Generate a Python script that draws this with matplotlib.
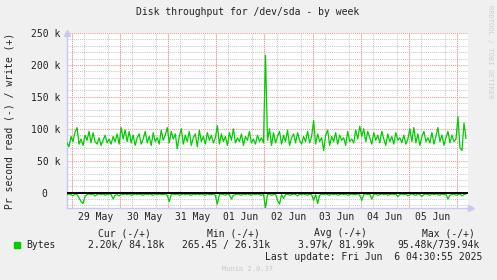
import numpy as np
import matplotlib.pyplot as plt
from matplotlib.patches import Rectangle
from matplotlib.ticker import MultipleLocator, FixedLocator

# hourly samples, hours relative to 29 May 00:00
write_k = [78, 72, 88, 80, 95, 102, 76, 84, 74, 90, 82, 96,
           78, 94, 80, 76, 86, 74, 82, 90, 78, 84, 76, 88,
           80, 92, 76, 102, 84, 98, 80, 96, 78, 90, 74, 86,
           92, 76, 84, 96, 78, 88, 74, 94, 80, 86, 76, 98,
           82, 90, 102, 78, 96, 84, 92, 69, 88, 100, 76, 90,
           80, 96, 74, 86, 92, 72, 98, 80, 88, 76, 94, 82,
           90, 78, 86, 105, 76, 92, 80, 88, 74, 94, 82, 100,
           78, 86, 80, 92, 74, 88, 82, 96, 78, 84, 76, 90,
           80, 86, 78, 215, 82, 100, 74, 94, 78, 88, 96, 76,
           90, 80, 98, 74, 86, 92, 78, 94, 82, 76, 88, 80,
           96, 78, 88, 113, 76, 92, 80, 86, 66, 90, 98, 74,
           88, 80, 94, 76, 90, 82, 86, 74, 96, 80, 84, 78,
           98, 84, 104, 88, 100, 80, 96, 86, 76, 94, 82, 90,
           78, 96, 84, 74, 92, 80, 88, 76, 94, 82, 86, 78,
           90, 76, 84, 100, 80, 102, 78, 92, 74, 88, 96, 80,
           86, 78, 94, 76, 88, 102, 80, 90, 74, 86, 96, 78,
           90, 80, 84, 119, 70, 66, 109, 85]

read_k = [3, 2, 3, 5, 2, 3, 8, 14, 17, 6, 3, 2,
          3, 2, 5, 3, 2, 3, 2, 4, 3, 2, 3, 10,
          4, 3, 5, 2, 3, 2, 3, 2, 4, 3, 2, 3,
          2, 3, 4, 2, 3, 2, 3, 4, 2, 3, 2, 3,
          3, 2, 4, 14, 3, 2, 3, 2, 4, 3, 2, 3,
          2, 3, 4, 2, 3, 2, 3, 2, 3, 4, 2, 3,
          3, 2, 4, 18, 3, 2, 3, 4, 2, 3, 10, 4,
          3, 2, 3, 4, 2, 3, 2, 3, 4, 2, 3, 2,
          3, 4, 2, 24, 3, 2, 4, 3, 2, 12, 18, 3,
          9, 3, 2, 4, 3, 2, 3, 5, 2, 3, 2, 3,
          4, 2, 3, 12, 3, 17, 4, 2, 3, 2, 3, 4,
          2, 3, 2, 4, 3, 2, 3, 2, 4, 3, 2, 3,
          3, 2, 4, 12, 3, 2, 3, 2, 10, 3, 2, 4,
          3, 2, 3, 2, 4, 3, 2, 3, 2, 6, 3, 2,
          3, 2, 5, 3, 2, 3, 4, 2, 3, 6, 3, 2,
          3, 4, 2, 3, 2, 3, 4, 2, 3, 2, 10, 4,
          3, 2, 4, 3, 2, 5, 3, 2]

hours = np.arange(len(write_k)) - 2.5
day_labels = ['29 May', '30 May', '31 May', '01 Jun', '02 Jun', '03 Jun', '04 Jun', '05 Jun']
y_ticks = [0, 50000, 100000, 150000, 200000, 250000]
y_labels = ['0  ', '50 k', '100 k', '150 k', '200 k', '250 k']

W, H = 497, 280
mono = 'DejaVu Sans Mono'
plt.rcParams['font.family'] = mono
plt.rcParams['font.size'] = 7

fig = plt.figure(figsize=(W / 100, H / 100), dpi=100, facecolor='#F0F0F0')
ax = fig.add_axes([67 / W, 1 - 208 / H, (468 - 67) / W, (208 - 33) / H])
ax.set_facecolor('white')

ax.set_xlim(-2.5, 197.5)
ax.set_ylim(-24000, 250000)

# grid
ax.xaxis.set_major_locator(FixedLocator([12 + 24 * i for i in range(len(day_labels))]))
ax.set_xticklabels(day_labels)
ax.xaxis.set_minor_locator(MultipleLocator(6))
ax.yaxis.set_major_locator(FixedLocator(y_ticks))
ax.set_yticklabels(y_labels)
ax.yaxis.set_minor_locator(MultipleLocator(10000))
ax.grid(which='minor', color='#CACACA', lw=0.75, ls=(0, (1, 1)))
for h in range(0, 200, 24):
    ax.axvline(h, color='#F29494', lw=0.75, ls=(0, (1, 1)), zorder=1)
for v in y_ticks:
    ax.axhline(v, color='#F29494', lw=0.75, ls=(0, (1, 1)), zorder=1)
ax.set_axisbelow(True)
ax.tick_params(which='both', length=0, colors='#222222', labelsize=7)
ax.tick_params(axis='y', pad=5)
ax.tick_params(axis='x', pad=3)

for s in ['top', 'right']:
    ax.spines[s].set_visible(False)
for s in ['left', 'bottom']:
    ax.spines[s].set_color('#C8C8F4')
    ax.spines[s].set_linewidth(1.0)

ax.plot(hours, np.array(write_k) * 1000, color='#00CC00', lw=0.9, zorder=3)
ax.plot(hours, -np.array(read_k) * 1000, color='#00CC00', lw=0.9, zorder=3)
ax.axhline(0, color='black', lw=1.4, zorder=4)

# axis arrows
ax.plot([0], [1.0], marker='^', ms=5, color='#C8C8F4', transform=ax.transAxes, clip_on=False)
ax.plot([1.008], [0], marker='>', ms=5, color='#C8C8F4', transform=ax.transAxes, clip_on=False)

def ftext(x, y, s, **kw):
    fig.text(x / W, 1 - y / H, s, va='center', color='#222222', **kw)

ftext(248, 12, 'Disk throughput for /dev/sda - by week', ha='center')
fig.text(10 / W, 1 - 121 / H, 'Pr second read (-) / write (+)', rotation=90,
         ha='center', va='center', color='#222222')

fig.patches.append(Rectangle((14 / W, 1 - 248 / H), 6 / W, 6 / H,
                             transform=fig.transFigure, color='#00CC00'))
ftext(26, 245, 'Bytes', ha='left')
ftext(98, 233, 'Cur (-/+)', ha='left')
ftext(207, 233, 'Min (-/+)', ha='left')
ftext(314, 233, 'Avg (-/+)', ha='left')
ftext(422, 233, 'Max (-/+)', ha='left')
ftext(88, 245, '2.20k/ 84.18k', ha='left')
ftext(182, 245, '265.45 / 26.31k', ha='left')
ftext(298, 245, '3.97k/ 81.99k', ha='left')
ftext(397, 245, '95.48k/739.94k', ha='left')
ftext(482, 257, 'Last update: Fri Jun  6 04:30:55 2025', ha='right')
fig.text(248 / W, 1 - 269 / H, 'Munin 2.0.37', ha='center', va='center',
         fontsize=5, color='#C8C8C8')
fig.text(490 / W, 1 - 5 / H, 'RRDTOOL / TOBI OETIKER', rotation=270,
         ha='center', va='top', fontsize=5, color='#CFCFCF')

fig.savefig('out.png', dpi=100, facecolor=fig.get_facecolor())
